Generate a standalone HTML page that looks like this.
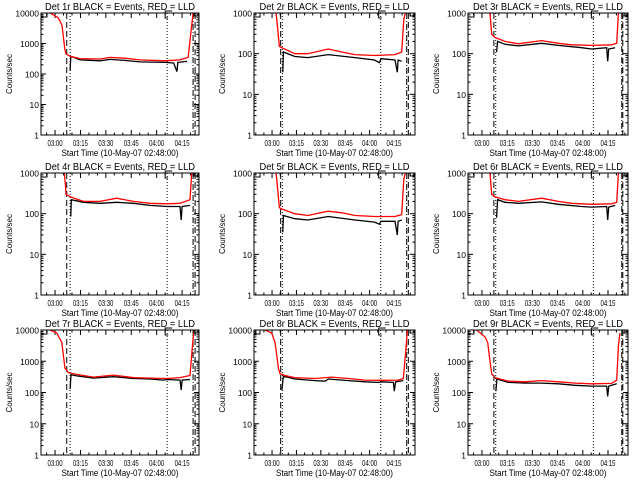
<!DOCTYPE html>
<html><head><meta charset="utf-8">
<style>
html,body{margin:0;padding:0;background:#fff;}
svg{display:block;font-family:"Liberation Sans",sans-serif;}
</style></head>
<body>
<svg id="chart" width="640" height="480" viewBox="0 0 640 480" xmlns="http://www.w3.org/2000/svg">
<rect x="0" y="0" width="640" height="480" fill="#fff"/>
</svg>
<script>
// time in minutes relative to 03:00
const xTickLabels = ["03:00","03:15","03:30","03:45","04:00","04:15"];
const xTickMinutes = [0,15,30,45,60,75];
const detNames = ["1r","2r","3r","4r","5r","6r","7r","8r","9r"];

const p1RedT = [-3,1.8,4.1,5,5.9,6.5,8.9,14.8,26.6,32.5,41.3,50.2,65,73.8,78.6,80.3,81.5];
const p1RedV = [10000,7000,4000,1500,600,450,380,320,310,350,330,290,270,290,350,2500,10000];
const p1BlkT = [8.9,9.3,14.8,26.6,32.5,41.3,50.2,65,70,72,72.5,78];
const p1BlkV = [130,380,290,270,300,280,250,240,230,120,240,260];

const p2RedT = [2.5,4.5,6,14,22,34.5,43,51,63,75.6,79.7,81,82];
const p2RedV = [1000,150,140,100,100,130,110,95,90,95,110,700,1000];
const p2BlkT = [6.6,7,14,22,34.5,51,63,66,67,75.6,77,77.5,79.7];
const p2BlkV = [35,110,85,80,95,80,70,60,75,70,35,70,65];

const p3RedT = [4.8,5.8,7.7,13.7,21.6,35.5,45.4,53.4,65.3,77.2,80.2,81.2];
const p3RedV = [1000,300,250,200,175,210,180,165,160,165,180,1000];
const p3BlkT = [8.7,9.3,13.7,21.6,35.5,45.4,59.3,65.3,74.2,74.8,75.4,79.2];
const p3BlkV = [110,200,170,155,180,160,140,130,140,65,130,140];

const p4RedT = [5.5,6.5,8.9,16.7,26.6,36.4,46.3,56,66,73.8,79.7,80.7];
const p4RedV = [1000,300,260,200,200,240,200,180,175,180,220,1000];
const p4BlkT = [9.3,9.6,16.7,26.6,36.4,46.3,56,66,73.8,74.5,75,79.7];
const p4BlkV = [85,220,190,180,190,180,160,150,150,70,150,160];

const p5RedT = [2.5,4.5,6,14,22,34.5,43,51,63,75.6,79.7,81,82];
const p5RedV = [1000,140,130,100,90,115,105,90,85,85,95,700,1000];
const p5BlkT = [6.6,7,14,22,34.5,51,63,66,67,75.6,77,77.5,79.7];
const p5BlkV = [35,90,75,70,85,70,62,55,65,65,30,65,70];

const p6RedT = [4.8,5.8,7.7,13.7,21.6,35.5,45.4,53.4,65.3,77.2,80.2,81.2];
const p6RedV = [1000,300,260,220,200,240,200,180,170,175,190,1000];
const p6BlkT = [8.7,9.3,13.7,21.6,35.5,45.4,59.3,65.3,74.2,74.8,75.4,79.2];
const p6BlkV = [80,220,190,180,195,170,150,145,150,70,145,160];

const p7RedT = [-3,1,4,4.9,5.9,7.9,12.8,22.6,34.4,46.3,56,66,73.8,79.7,81.1,82];
const p7RedV = [10000,8000,4000,1500,600,430,380,310,360,300,290,280,300,350,3000,10000];
const p7BlkT = [8.9,9.4,12.8,22.6,34.4,46.3,56,64,66,73.8,74.5,75,79.7];
const p7BlkV = [130,370,340,290,320,280,270,250,260,250,120,250,260];

const p8RedT = [-4.3,-0.2,1.8,2.9,3.9,4.9,8,14,26.4,36.7,46.9,57.2,67.4,77.6,80.7,82.2,83.2];
const p8RedV = [10000,8000,4000,1500,600,400,350,300,280,310,280,250,245,250,280,2000,10000];
const p8BlkT = [6,7,14,26.4,32.6,34.6,46.9,57.2,65.3,67.4,74.6,75.2,76,80.7];
const p8BlkV = [120,330,270,240,230,270,240,220,210,220,210,110,220,240];

const p9RedT = [-3.2,1.8,3.4,4.8,5.8,7.7,15.7,25.6,35.5,45.4,55.4,65.3,77.2,80.2,81.2,82.1];
const p9RedV = [10000,6000,4000,1000,400,300,230,220,240,220,200,190,195,250,3000,8000];
const p9BlkT = [8.3,8.9,15.7,25.6,35.5,45.4,55.4,65.3,74.2,74.8,75.4,80.2];
const p9BlkV = [110,270,210,200,200,190,170,160,160,75,160,190];

// vertical marker lines (minutes): dashed, dotted, dotted, dash-dot, dashed
const col1Marks = [6.9,8.9,66.2,81.5,82.7];
const col2Marks = [5.3,6.3,66.8,82.8,83.8];
const col3Marks = [7.1,8.2,66.3,83.2,83.8];

const NS = "http://www.w3.org/2000/svg";
const svg = document.getElementById("chart");
function mk(tag, attrs, parent){
  const e = document.createElementNS(NS, tag);
  for (const k in attrs) e.setAttribute(k, attrs[k]);
  (parent||svg).appendChild(e);
  return e;
}

const cols = [
  {x0:41, x1:199, t0:-8.3, t1:85.0, marks:col1Marks},
  {x0:254, x1:415, t0:-11.1, t1:87.9, marks:col2Marks},
  {x0:468, x1:628, t0:-8.3, t1:86.9, marks:col3Marks}
];
const rows = [{y0:13,y1:135},{y0:173,y1:295},{y0:330,y1:455}];
const panels = [
  {red:[p1RedT,p1RedV], blk:[p1BlkT,p1BlkV], dec:4},
  {red:[p2RedT,p2RedV], blk:[p2BlkT,p2BlkV], dec:3},
  {red:[p3RedT,p3RedV], blk:[p3BlkT,p3BlkV], dec:3},
  {red:[p4RedT,p4RedV], blk:[p4BlkT,p4BlkV], dec:3},
  {red:[p5RedT,p5RedV], blk:[p5BlkT,p5BlkV], dec:3},
  {red:[p6RedT,p6RedV], blk:[p6BlkT,p6BlkV], dec:3},
  {red:[p7RedT,p7RedV], blk:[p7BlkT,p7BlkV], dec:4},
  {red:[p8RedT,p8RedV], blk:[p8BlkT,p8BlkV], dec:4},
  {red:[p9RedT,p9RedV], blk:[p9BlkT,p9BlkV], dec:4}
];

panels.forEach((p, i) => {
  const c = cols[i % 3], r = rows[Math.floor(i / 3)];
  const g = mk("g", {});
  
  
  const xs = t => c.x0 + (t - c.t0) / (c.t1 - c.t0) * (c.x1 - c.x0);
  const ys = v => r.y1 - Math.log10(Math.max(v, 1e-3)) / p.dec * (r.y1 - r.y0);
  const clipId = "clip" + i;
  const cp = mk("clipPath", {id: clipId}, g);
  mk("rect", {x:c.x0, y:r.y0, width:c.x1-c.x0, height:r.y1-r.y0}, cp);

  // title
  const title = mk("text", {x:(c.x0+c.x1)/2, y:r.y0-3, "text-anchor":"middle", "font-size":"10", fill:"#000", textLength:"150", lengthAdjust:"spacingAndGlyphs"}, g);
  title.textContent = "Det " + detNames[i] + " BLACK = Events, RED = LLD";
  
  

  // y ticks & labels
  for (let d = 0; d <= p.dec; d++) {
    const y = ys(Math.pow(10, d));
    mk("line", {x1:c.x0, x2:c.x0+5, y1:y, y2:y, stroke:"#000", "stroke-width":1}, g);
    mk("line", {x1:c.x1, x2:c.x1-5, y1:y, y2:y, stroke:"#000", "stroke-width":1}, g);
    const lb = mk("text", {x:c.x0-2, y:y+3.5, "text-anchor":"end", "font-size":"8.5", fill:"#000"}, g);
    lb.textContent = String(Math.pow(10, d));
    
    
    if (d < p.dec) for (let m = 2; m <= 9; m++) {
      const ym = ys(m * Math.pow(10, d));
      mk("line", {x1:c.x0, x2:c.x0+2.5, y1:ym, y2:ym, stroke:"#000", "stroke-width":1}, g);
      mk("line", {x1:c.x1, x2:c.x1-2.5, y1:ym, y2:ym, stroke:"#000", "stroke-width":1}, g);
    }
  }
  // x ticks
  for (let t = -15; t <= 90; t += 5) {
    if (t < c.t0 || t > c.t1) continue;
    const x = xs(t), major = (t % 15 === 0);
    const L = major ? 5 : 2.5;
    mk("line", {x1:x, x2:x, y1:r.y1, y2:r.y1-L, stroke:"#000", "stroke-width":1}, g);
    mk("line", {x1:x, x2:x, y1:r.y0, y2:r.y0+L, stroke:"#000", "stroke-width":1}, g);
  }
  xTickMinutes.forEach((t, k) => {
    const lb = mk("text", {x:xs(t), y:r.y1+11, "text-anchor":"middle", "font-size":"8.5", fill:"#000", textLength:"15", lengthAdjust:"spacingAndGlyphs"}, g);
    lb.textContent = xTickLabels[k];
    
    
  });
  const xt = mk("text", {x:(c.x0+c.x1)/2, y:r.y1+21, "text-anchor":"middle", "font-size":"9.5", fill:"#000", textLength:"117", lengthAdjust:"spacingAndGlyphs"}, g);
  xt.textContent = "Start Time (10-May-07 02:48:00)";
  
  
  const yc = (r.y0 + r.y1) / 2, yx = c.x0 - 29;
  const yt = mk("text", {x:yx, y:yc, "text-anchor":"middle", "font-size":"8.5", fill:"#000", textLength:"40", lengthAdjust:"spacingAndGlyphs", transform:"rotate(-90 "+yx+" "+yc+")"}, g);
  yt.textContent = "Counts/sec";
  
  

  // vertical marker lines
  const styles = ["6,3","1,2","1,2","6,2,1,2","6,3"];
  c.marks.forEach((t, k) => {
    const ln = mk("line", {x1:xs(t), x2:xs(t), y1:r.y0, y2:r.y1, stroke:"#000", "stroke-width":1, "stroke-dasharray":styles[k]}, g);
    
    
  });

  // series
  const pts = (T, V) => T.map((t, k) => xs(t).toFixed(1) + "," + ys(V[k]).toFixed(1)).join(" ");
  const bl = mk("polyline", {points:pts(p.blk[0], p.blk[1]), fill:"none", stroke:"#000", "stroke-width":1.3, "clip-path":"url(#"+clipId+")"}, g);
  
  
  const rl = mk("polyline", {points:pts(p.red[0], p.red[1]), fill:"none", stroke:"#ff0000", "stroke-width":1.3, "clip-path":"url(#"+clipId+")"}, g);
  
  

  // small markers at top
  mk("path", {d:"M"+c.x0+" "+(r.y0+4)+" h6 v-4", fill:"none", stroke:"#000"}, g);
  const ex = xs(c.marks[2]);
  mk("path", {d:"M"+(ex+1)+" "+(r.y0+5)+" h-3 v-7 h7", fill:"none", stroke:"#000"}, g);
  mk("rect", {x:c.x1-5, y:r.y0, width:4, height:3, fill:"none", stroke:"#000"}, g);

  // frame
  const fr = mk("rect", {x:c.x0, y:r.y0, width:c.x1-c.x0, height:r.y1-r.y0, fill:"none", stroke:"#000", "stroke-width":1}, g);
  
  
});
</script>
</body></html>
